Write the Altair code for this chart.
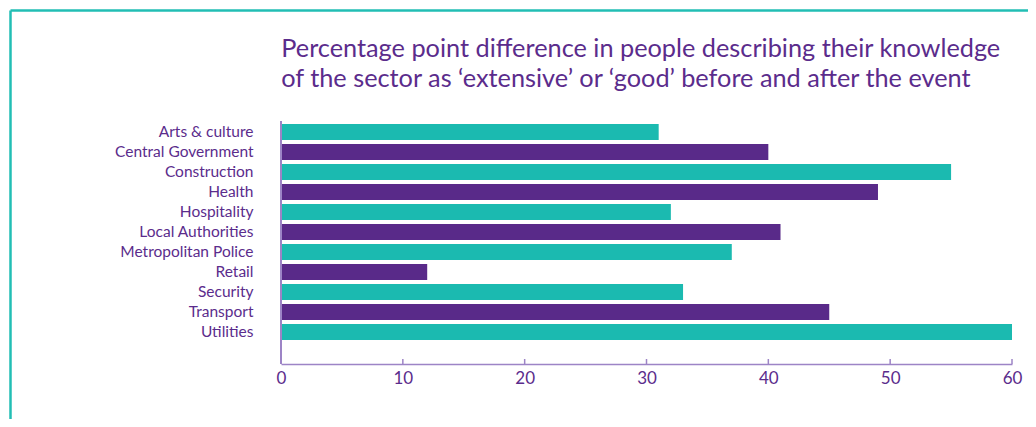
import altair as alt
import pandas as pd

sectors = ["Arts & culture", "Central Government", "Construction", "Health",
           "Hospitality", "Local Authorities", "Metropolitan Police", "Retail",
           "Security", "Transport", "Utilities"]
values = [31, 40, 55, 49, 32, 41, 37, 12, 33, 45, 60]
groups = ["a", "b", "a", "b", "a", "b", "a", "b", "a", "b", "a"]
tick_values = [0, 10, 20, 30, 40, 50, 60]
title_lines = ["Percentage point difference in people describing their knowledge",
               "of the sector as \u2018extensive\u2019 or \u2018good\u2019 before and after the event"]

TEAL = "#1bbab0"
PURPLE = "#592a89"
TEXT = "#5b2c8c"
AXIS = "#9d84c6"
FONT = "Lato"

W, H = 731, 222
XOFF = 21

df = pd.DataFrame({"sector": sectors, "value": values, "group": groups})
ticks_df = pd.DataFrame({"t": tick_values})

xscale = alt.Scale(domain=[0, 60], nice=False)

bars = alt.Chart(df).mark_bar().encode(
    x=alt.X("value:Q", scale=xscale,
            axis=alt.Axis(values=tick_values, title=None, grid=False, ticks=False,
                          domainColor=AXIS, domainWidth=1.5, offset=XOFF,
                          labelFont=FONT, labelFontSize=17, labelColor=TEXT,
                          labelPadding=6, labelFlush=False)),
    y=alt.Y("sector:N", sort=sectors,
            scale=alt.Scale(paddingInner=0.2, paddingOuter=0.15),
            axis=alt.Axis(title=None, domain=False, ticks=False,
                          labelFont=FONT, labelFontSize=15.5, labelColor=TEXT,
                          labelPadding=28, labelLimit=300)),
    color=alt.Color("group:N", scale=alt.Scale(domain=["a", "b"], range=[TEAL, PURPLE]),
                    legend=None),
)

tick_marks = alt.Chart(ticks_df).mark_rule(color=AXIS, strokeWidth=1.5).encode(
    x=alt.X("t:Q", scale=xscale),
    y=alt.value(H + XOFF - 5),
    y2=alt.value(H + XOFF),
)

y_domain = alt.Chart(ticks_df.head(1)).mark_rule(color=AXIS, strokeWidth=2).encode(
    x=alt.value(0), y=alt.value(0), y2=alt.value(H + XOFF),
)

border_top = alt.Chart(ticks_df.head(1)).mark_rule(color="#22beb4", strokeWidth=2.5).encode(
    x=alt.value(-270.5), x2=alt.value(760), y=alt.value(-110.5),
)
border_left = alt.Chart(ticks_df.head(1)).mark_rule(color="#22beb4", strokeWidth=2.5).encode(
    x=alt.value(-270.5), y=alt.value(-110.5), y2=alt.value(320),
)

chart = alt.layer(border_top, border_left, bars, tick_marks, y_domain).properties(
    width=W, height=H,
    title=alt.TitleParams(title_lines, anchor="start", font=FONT, fontSize=25.3,
                          fontWeight="normal", color=TEXT, lineHeight=30, offset=30,
                          dy=113, dx=272),
    autosize=alt.AutoSizeParams(type="none"),
    padding={"left": 273, "top": 113, "right": 16, "bottom": 76},
).configure_view(stroke=None)

chart.save("out.html", embed_options={"renderer": "svg", "actions": False})
